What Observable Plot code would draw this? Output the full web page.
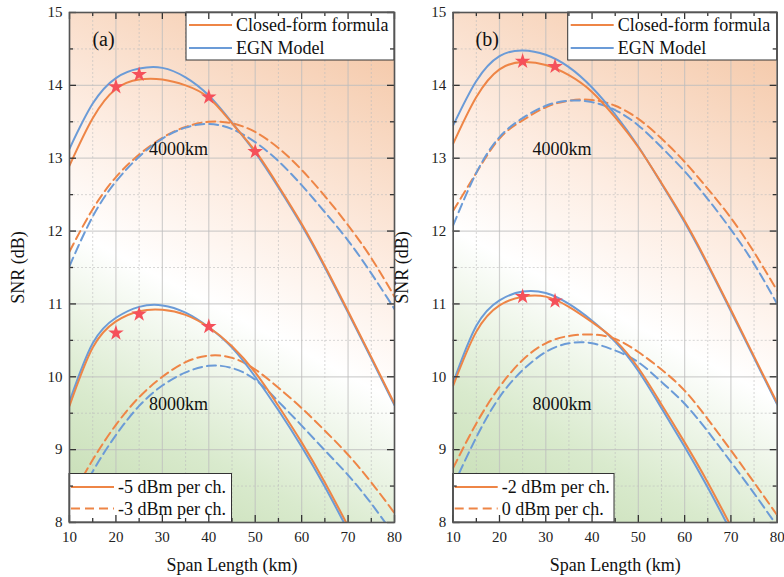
<!DOCTYPE html>
<html><head><meta charset="utf-8">
<script src="https://cdn.jsdelivr.net/npm/d3@7"></script>
<script src="https://cdn.jsdelivr.net/npm/@observablehq/plot@0.6"></script>
<style>
body{margin:0;background:#fff;}
#wrap{position:relative;width:784px;height:577px;overflow:hidden;font-family:"Liberation Serif",serif;}
#wrap svg{position:absolute;top:0;}
</style></head><body><div id="wrap"></div>
<script>
// ---------- data ----------
const spans = [10,15,20,25,30,35,40,45,50,55,60,65,70,75,80];

// Panel (a): solid = -5 dBm per ch., dashed = -3 dBm per ch.
const aClosed4000Solid  = [12.90,13.55,13.95,14.08,14.08,14.00,13.83,13.48,13.10,12.62,12.10,11.52,10.90,10.27,9.63];
const aEGN4000Solid     = [13.13,13.75,14.10,14.23,14.24,14.11,13.86,13.49,13.08,12.60,12.08,11.50,10.88,10.25,9.61];
const aClosed4000Dashed = [11.72,12.30,12.74,13.05,13.28,13.43,13.50,13.48,13.36,13.14,12.84,12.48,12.08,11.63,11.10];
const aEGN4000Dashed    = [11.52,12.20,12.68,13.02,13.27,13.42,13.47,13.40,13.22,12.96,12.63,12.26,11.87,11.42,10.93];
const aClosed8000Solid  = [9.60,10.40,10.76,10.90,10.92,10.85,10.68,10.42,10.06,9.60,9.10,8.55,7.95];
const aEGN8000Solid     = [9.66,10.46,10.81,10.96,10.98,10.88,10.68,10.40,10.00,9.54,9.04,8.49,7.89];
const aClosed8000Dashed = [8.30,8.86,9.34,9.72,10.00,10.20,10.29,10.26,10.10,9.85,9.57,9.26,8.93,8.55,8.13];
const aEGN8000Dashed    = [8.10,8.70,9.20,9.60,9.88,10.06,10.15,10.12,9.96,9.66,9.33,8.99,8.65,8.26,7.82];
const aStarX = [20,25,40,50,20,25,40];
const aStarY = [13.98,14.15,13.84,13.09,10.60,10.86,10.69];

// Panel (b): solid = -2 dBm per ch., dashed = 0 dBm per ch.
const bClosed4000Solid  = [13.20,13.84,14.22,14.32,14.28,14.14,13.91,13.56,13.15,12.66,12.14,11.55,10.92,10.28,9.64];
const bEGN4000Solid     = [13.45,14.06,14.40,14.48,14.42,14.25,13.97,13.60,13.16,12.65,12.12,11.53,10.90,10.26,9.62];
const bClosed4000Dashed = [12.28,12.80,13.27,13.52,13.70,13.79,13.80,13.72,13.54,13.27,12.95,12.58,12.18,11.71,11.18];
const bEGN4000Dashed    = [12.08,12.80,13.29,13.55,13.72,13.79,13.77,13.66,13.45,13.15,12.82,12.44,12.02,11.55,11.00];
const bClosed8000Solid  = [9.88,10.62,10.98,11.10,11.10,10.96,10.75,10.50,10.12,9.62,9.10,8.55,7.95];
const bEGN8000Solid     = [9.92,10.70,11.05,11.17,11.15,11.00,10.77,10.48,10.08,9.57,9.04,8.48,7.88];
const bClosed8000Dashed = [8.75,9.36,9.86,10.23,10.46,10.56,10.58,10.52,10.34,10.10,9.81,9.42,8.99,8.55,8.10];
const bEGN8000Dashed    = [8.50,9.17,9.72,10.09,10.34,10.46,10.46,10.36,10.20,9.93,9.63,9.25,8.83,8.40,7.95];
const bStarX = [25,32,25,32];
const bStarY = [14.33,14.26,11.10,11.04];

const distanceLabels = ["4000km","8000km"];
const distanceLabelX = [33.5,33.5];
const distanceLabelY = [13.12,9.62];

const modelLegend = ["Closed-form formula","EGN Model"];
const powerLegendA = ["-5 dBm per ch.","-3 dBm per ch."];
const powerLegendB = ["-2 dBm per ch.","0 dBm per ch."];

const xMajor = [10,20,30,40,50,60,70,80];
const xMinor = [15,25,35,45,55,65,75];
const yMajor = [8,9,10,11,12,13,14,15];
const yMinor = [8.5,9.5,10.5,11.5,12.5,13.5,14.5];

// ---------- style ----------
const ORANGE = "#ee8546", BLUE = "#6b9bd7", STAR = "#f5505a";
const DASH = "9,5";
const FONT = "Liberation Serif";

const pts = arr => arr.map((y,i) => ({x: spans[i], y}));

function background(id){
  return (index, scales, values, d) => {
    const l = d.marginLeft, r = d.width - d.marginRight, t = d.marginTop, b = d.height - d.marginBottom;
    const g = d3.create("svg:g");
    const grad = g.append("defs").append("linearGradient").attr("id", id)
      .attr("gradientUnits","userSpaceOnUse")
      .attr("x1", l).attr("y1", b)
      .attr("x2", l + (r-l)*0.86).attr("y2", t - (b-t)*0.047);
    [[0,"#c3dbb0"],[0.2,"#d9eacd"],[0.43,"#ffffff"],[0.62,"#fdece1"],[1,"#f3c3a0"]]
      .forEach(([o,c]) => grad.append("stop").attr("offset", o).attr("stop-color", c));
    g.append("rect").attr("x",l).attr("y",t).attr("width",r-l).attr("height",b-t).attr("fill",`url(#${id})`);
    return g.node();
  };
}

function legendTop(boxW){
  return (index, scales, values, d) => {
    const r = d.width - d.marginRight, t = d.marginTop;
    const x0 = r - boxW;
    const g = d3.create("svg:g");
    g.append("rect").attr("x",x0).attr("y",t).attr("width",boxW).attr("height",48)
      .attr("fill","white").attr("stroke","#333").attr("stroke-width",1);
    const colors = [ORANGE, BLUE];
    modelLegend.forEach((lab,i) => {
      const y = t + 13 + i*23;
      g.append("line").attr("x1",x0+3).attr("x2",x0+46).attr("y1",y).attr("y2",y)
        .attr("stroke",colors[i]).attr("stroke-width",2.2);
      g.append("text").attr("x",x0+50).attr("y",y).attr("dy","0.35em")
        .attr("text-anchor","start").attr("font-size",18).attr("fill","#111").text(lab);
    });
    return g.node();
  };
}

function legendBottom(labels, boxW){
  return (index, scales, values, d) => {
    const l = d.marginLeft, b = d.height - d.marginBottom;
    const g = d3.create("svg:g");
    g.append("rect").attr("x",l).attr("y",b-48.5).attr("width",boxW).attr("height",48.5)
      .attr("fill","white").attr("stroke","#333").attr("stroke-width",1);
    labels.forEach((lab,i) => {
      const y = b - 35 + i*21.5;
      g.append("line").attr("x1",l+2).attr("x2",l+45).attr("y1",y).attr("y2",y)
        .attr("stroke",ORANGE).attr("stroke-width",2.2).attr("stroke-dasharray", i ? DASH : null);
      g.append("text").attr("x",l+49).attr("y",y).attr("dy","0.35em")
        .attr("text-anchor","start").attr("font-size",18).attr("fill","#111").text(lab);
    });
    return g.node();
  };
}

function panel(cfg){
  const frameH = 577 - 12 - 55;
  const frameW = cfg.width - cfg.ml - cfg.mr;
  const lines = [];
  cfg.series.forEach(([arr, color, dashed]) => {
    lines.push(Plot.line(pts(arr), {x:"x", y:"y", stroke: color, strokeWidth: 2,
      strokeDasharray: dashed ? DASH : null, curve: "natural", clip: true}));
  });
  const starData = cfg.starX.map((x,i) => ({x, y: cfg.starY[i]}));
  const labData = distanceLabels.map((t,i) => ({t, x: distanceLabelX[i], y: distanceLabelY[i]}));
  const tickStroke = "#333";
  return Plot.plot({
    width: cfg.width, height: 577,
    marginLeft: cfg.ml, marginRight: cfg.mr, marginTop: 12, marginBottom: 55,
    style: {fontFamily: FONT, fontSize: "15px", background: "transparent", color: "#222", overflow: "visible"},
    x: {domain: [10,80], ticks: xMajor, tickSize: 0, tickPadding: 9, label: null, tickFormat: d => String(d)},
    y: {domain: [8,15], ticks: yMajor, tickSize: 0, tickPadding: 7, label: null, tickFormat: d => String(d)},
    marks: [
      background(cfg.gradId),
      Plot.ruleX(xMinor, {stroke: "#bdbdbd", strokeOpacity: 0.6, strokeDasharray: "2,2"}),
      Plot.ruleY(yMinor, {stroke: "#bdbdbd", strokeOpacity: 0.6, strokeDasharray: "2,2"}),
      Plot.ruleX(xMajor, {stroke: "#bdbdbd", strokeOpacity: 0.7, strokeWidth: 1.2}),
      Plot.ruleY(yMajor, {stroke: "#bdbdbd", strokeOpacity: 0.7, strokeWidth: 1.2}),
      ...lines,
      Plot.dot(starData, {x:"x", y:"y", symbol: "star", r: 4.9, fill: STAR, stroke: "none"}),
      Plot.text(labData, {x:"x", y:"y", text:"t", fontSize: 18, fill: "#111"}),
      legendTop(cfg.topW),
      legendBottom(cfg.powers, cfg.botW),
      Plot.tickX(xMajor, {stroke: tickStroke, strokeWidth: 1.3, insetTop: frameH - 7}),
      Plot.tickX(xMajor, {stroke: tickStroke, strokeWidth: 1.3, insetBottom: frameH - 7}),
      Plot.tickX(xMinor, {stroke: tickStroke, strokeWidth: 1.3, insetTop: frameH - 4}),
      Plot.tickX(xMinor, {stroke: tickStroke, strokeWidth: 1.3, insetBottom: frameH - 4}),
      Plot.tickY(yMajor, {stroke: tickStroke, strokeWidth: 1.3, insetRight: frameW - 7}),
      Plot.tickY(yMajor, {stroke: tickStroke, strokeWidth: 1.3, insetLeft: frameW - 7}),
      Plot.tickY(yMinor, {stroke: tickStroke, strokeWidth: 1.3, insetRight: frameW - 4}),
      Plot.tickY(yMinor, {stroke: tickStroke, strokeWidth: 1.3, insetLeft: frameW - 4}),
      Plot.frame({stroke: "#555", strokeWidth: 1.6}),
      Plot.text([cfg.tag], {frameAnchor: "top-left", dx: 34, dy: 27, textAnchor: "middle", lineAnchor: "middle", fontSize: 20, fill: "#111"}),
      Plot.text(["Span Length (km)"], {frameAnchor: "bottom", dy: 43, textAnchor: "middle", lineAnchor: "middle", fontSize: 18, fill: "#111"}),
      Plot.text(["SNR (dB)"], {frameAnchor: "left", dx: -51, rotate: -90, textAnchor: "middle", lineAnchor: "middle", fontSize: 18, fill: "#111"})
    ]
  });
}

const wrap = document.getElementById("wrap");
const pa = panel({
  width: 400, ml: 69, mr: 6, gradId: "bgA", tag: "(a)",
  series: [
    [aClosed4000Dashed, ORANGE, true], [aEGN4000Dashed, BLUE, true],
    [aClosed8000Dashed, ORANGE, true], [aEGN8000Dashed, BLUE, true],
    [aEGN8000Solid, BLUE, false], [aClosed8000Solid, ORANGE, false],
    [aEGN4000Solid, BLUE, false], [aClosed4000Solid, ORANGE, false]
  ],
  starX: aStarX, starY: aStarY, powers: powerLegendA, topW: 208, botW: 162.5
});
pa.style.left = "0px";
const pb = panel({
  width: 394, ml: 62.7, mr: 7.3, gradId: "bgB", tag: "(b)",
  series: [
    [bClosed4000Dashed, ORANGE, true], [bEGN4000Dashed, BLUE, true],
    [bClosed8000Dashed, ORANGE, true], [bEGN8000Dashed, BLUE, true],
    [bEGN8000Solid, BLUE, false], [bClosed8000Solid, ORANGE, false],
    [bEGN4000Solid, BLUE, false], [bClosed4000Solid, ORANGE, false]
  ],
  starX: bStarX, starY: bStarY, powers: powerLegendB, topW: 209, botW: 161.3
});
pb.style.left = "390px";
wrap.appendChild(pa);
wrap.appendChild(pb);
</script></body></html>
